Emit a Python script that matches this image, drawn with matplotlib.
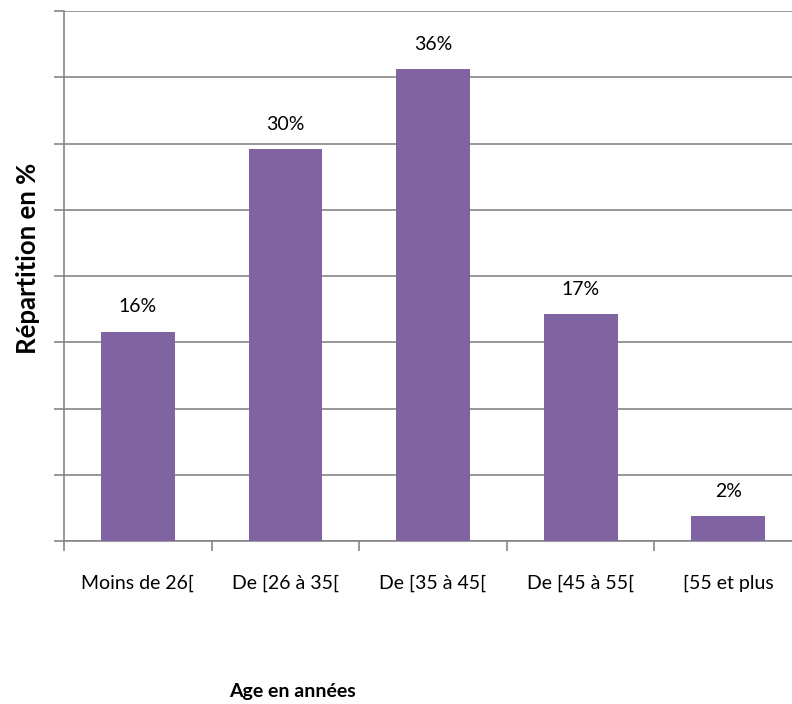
import numpy as np
import matplotlib.pyplot as plt

plt.rcParams['font.family'] = ['Lato', 'DejaVu Sans']

# Tranches d'age et repartition (%)
categories = ['Moins de 26[', 'De [26 à 35[', 'De [35 à 45[', 'De [45 à 55[', '[55 et plus']
values = [15.8, 29.6, 35.6, 17.1, 1.9]
labels = ['16%', '30%', '36%', '17%', '2%']

bar_color = '#8064A2'
grid_color = '#868686'

fig = plt.figure(figsize=(7.92, 7.04), dpi=100)
ax = fig.add_axes([64 / 792, 163 / 704, 738 / 792, 530 / 704])

x = np.arange(len(categories))
ax.bar(x, values, width=0.5, color=bar_color, zorder=3)

for xi, v, lab in zip(x, values, labels):
    ax.text(xi, v + 1.45, lab, ha='center', va='baseline', fontsize=14, color='black')

ax.set_xlim(-0.5, len(categories) - 0.5)
ax.set_ylim(0, 40)
ax.set_yticks(np.arange(0, 41, 5))
ax.set_yticklabels([])
ax.yaxis.grid(True, color=grid_color, linewidth=1.2, zorder=0)

# ticks between categories, labels centered
ax.set_xticks(np.arange(-0.5, len(categories), 1.0))
ax.set_xticklabels([])
ax.set_xticks(x, minor=True)
ax.set_xticklabels(categories, minor=True, fontsize=14)
ax.tick_params(axis='x', which='minor', length=0, pad=24)
ax.tick_params(axis='x', which='major', length=7, width=1.2, color=grid_color)
ax.tick_params(axis='y', length=7, width=1.2, color=grid_color)

for s in ['top', 'right']:
    ax.spines[s].set_visible(False)
for s in ['left', 'bottom']:
    ax.spines[s].set_color(grid_color)
    ax.spines[s].set_linewidth(1.2)

fig.text(292 / 792, 1 - 692 / 704, 'Age en années', ha='center', va='center',
         fontsize=14, fontweight='bold')
fig.text(28 / 792, 1 - 258 / 704, 'Répartition en %', ha='center', va='center',
         rotation=90, fontsize=18.5, fontweight='bold')

fig.savefig('out.png', dpi=100)
